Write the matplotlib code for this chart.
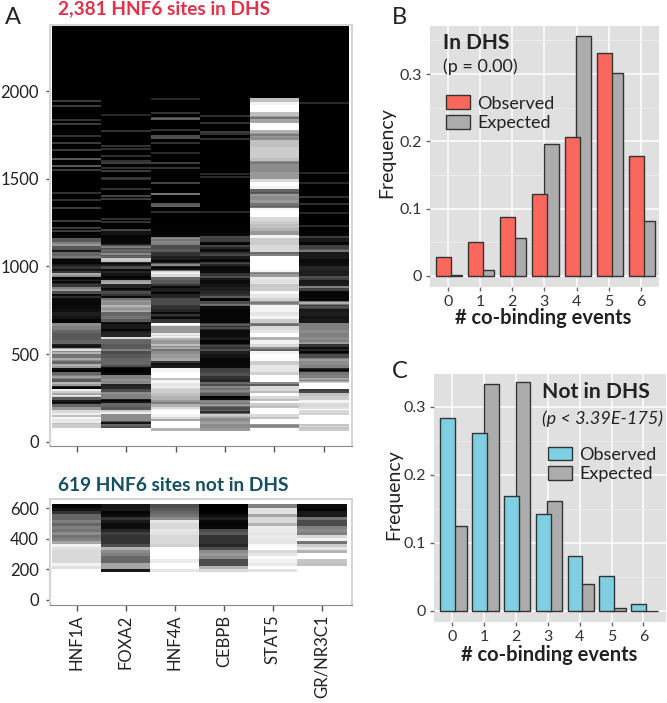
from matplotlib import pyplot as plt
from matplotlib.patches import Patch
import numpy as np

plt.rcParams['font.family'] = ['Lato', 'DejaVu Sans']

W, H = 667, 703

factors = ["HNF1A", "FOXA2", "HNF4A", "CEBPB", "STAT5", "GR/NR3C1"]

# in DHS heatmap, gray level (0 black, 1 white) in bins of 20 sites, from site 1200 down to 60
hnf1a_low = [.03, .03, .35, .5, .35, .3, .4, .25, .06, .1, .2, .22, .55, .05, .15, .22, .5, .3, .18,
             .04, .03, .04, .06, .12, .08, .02, .55, .5, .4, .35, .35, .4, .12, .6, .55, .45, .55, .4,
             .6, .06, .4, .5, .35, .6, .12, .8, .65, .35, .1, .4, .6, .85, .75, .9, .75, .8, 1]
foxa2_low = [.08, .02, .03, .15, .3, .4, .35, .4, .75, .1, .3, .15, .08, .05, .6, .15, .15, .3, .2,
             .45, .55, .6, .55, .4, .45, .35, .1, .1, .12, .15, .4, .4, .35, .35, .3, .35, .4, .4,
             .3, .03, .05, .5, .5, .55, .15, .3, .5, .5, .08, .4, .35, .8, .55, .55, .35, .4, 1]
hnf4a_low = [.02, .03, .45, .5, .3, .35, .2, .12, .12, .35, .1, .4, .85, .4, .35, .2, .12, .1, .15,
             .3, .3, .2, .15, .2, .12, .2, .9, .6, .6, .85, .7, .6, .55, .65, .55, .6, .65, .2,
             .1, .95, 1, 1, .95, .9, .85, .8, .75, .7, .6, .7, .85, 1, .95, .85, 1, 1, .7]
cebpb_low = [.02, .05, .25, .03, .15, .05, .2, .1, .02, .15, .04, .04, .2, .1, .05, .08, .12, .15, .2,
             .03, .3, .04, .02, .02, .02, .03, .25, .15, .05, .05, .1, .02, .15, .2, .12, .08, .03, .03,
             .04, .25, .3, .2, .15, .3, .45, .45, .35, .05, .5, .45, .3, .4, .8, .55, .6, .55, .6]
stat5_low = [.95, .85, .55, .95, 1, .98, .8, .9, .9, .82, 1, 1, .55, .85, .85, 1, .85, 1, .8,
             1, 1, .85, 1, 1, .6, 1]
stat5_high = [.75, .95, 1, 1, .75, .6, .65, 1, 1, .7, .6, .55, .75, .75, .8, .8, .8, .75, .55,
              .55, .55, .6, .6, .85, 1, .95, .4, .6, .55, .6, .45, .95, 1, 1, .85, .8, .75, .7,
              .6, .95, .8, .8, .85, .85, .5, 1, 1, 1, 1, .95, .6, .9, .88, .78, .8, .98, .9, .82,
              .6, .95, .95, .9, .95, .8, .5, .85, .9, 1, .7]
gr_low = [.02, .02, .1, .03, .25, .35, .1, .1, .04, .06, .15, .12, .12, .25, .1, .12, .25, .03, .03,
          .03, .45, .25, .1, .12, .08, .1, .5, .5, .55, .5, .55, .5, .2, .15, .1, .3, .5, .55,
          .5, .15, .45, .5, .5, 1, 1, .4, .75, .8, .95, .85, 1, .85, 1, 1, 1, .85, .8]

# single stripes on top of the bins: (site, gray)
hnf1a_lines = [(1943, .3), (1913, .3), (1833, .25), (1814, .3), (1743, .25), (1707, .3), (1666, .3),
               (1616, .45), (1572, .45), (1552, .3), (1422, .25), (1377, .25), (1335, .3), (1259, .3),
               (1217, .3), (1202, .3),
               (1123, .65), (1056, .55), (955, .7), (866, .65), (523, .98), (504, .75), (470, .7),
               (438, .75), (371, .65), (337, .75), (295, .98), (261, .98), (158, .98), (133, .98),
               (112, .98), (1189, 0), (1090, .05), (1037, 0), (1018, 0), (980, .05), (936, 0),
               (913, 0), (837, 0), (542, .02), (405, 0), (308, 0), (223, .02)]
foxa2_lines = [(1863, .2), (1772, .25), (1685, .25), (1671, .25), (1631, .25), (1603, .25), (1589, .3),
               (1561, .25), (1542, .3), (1507, .25), (1498, .25), (1441, .25), (1400, .35), (1385, .3),
               (1270, .25), (1253, .25), (1206, .35),
               (1109, .55), (1071, .6), (1041, .85), (904, .7), (805, .6), (774, .75), (746, .7),
               (590, 1), (1132, 0), (1018, 0), (980, 0), (942, 0), (870, 0), (827, 0), (675, 0),
               (637, 0), (418, 0), (408, 0), (398, 0), (323, 0), (238, 0), (108, 0), (166, .98),
               (82, .3), (276, .6), (352, .6), (523, .55)]
hnf4a_lines = [(1954, .2), (1878, .25), (1850, .35), (1840, .45), (1780, .25), (1742, .4), (1732, .4),
               (1704, .25), (1647, .2), (1588, .3), (1563, .25), (1479, .35), (1415, .6), (1355, .45),
               (1345, .5), (1312, .25),
               (1161, .6), (1142, .55), (1009, .6), (970, .95), (961, .95), (670, 1), (615, .95),
               (596, .98), (443, .02), (523, .4), (552, .8), (343, .98), (314, .95), (219, .45),
               (356, .7), (124, .6), (181, .98), (1033, 0), (989, .02), (884, 0), (846, 0), (732, 0),
               (703, 0)]
cebpb_lines = [(1856, .25), (1818, .25), (1770, .3), (1757, .25), (1726, .25), (1529, .2), (1510, .2),
               (1308, .2),
               (1166, .35), (1117, .3), (1066, .3), (1018, .3), (942, .35), (827, .4), (780, .5),
               (666, .4), (651, .35), (523, .35), (546, .3), (381, .35), (333, .45), (314, .55),
               (291, .55), (228, .55), (210, .65), (139, .7), (105, .65), (257, 0), (171, .1)]
stat5_lines = [(1079, .4), (964, .45), (789, .45), (666, .4), (523, .35), (324, .3), (90, .5), (286, .7),
               (200, .7), (137, .7), (238, .7), (1419, .3), (1339, .35), (1846, .4), (1751, .45),
               (1590, .45)]
gr_lines = [(1930, .2), (1533, .2), (1476, .2), (1394, .25), (1358, .25), (1305, .2), (1229, .2),
            (1166, .3), (1090, .5), (942, .35), (881, .6), (789, .75), (766, .35), (533, .02), (514, 0),
            (409, .02), (295, .2), (286, .25), (565, .65), (466, .65), (356, .7), (343, .75), (194, .85),
            (158, .8), (95, .75), (76, .75)]

# not in DHS heatmap, bins of 20 sites from site 625 down to 165
hnf1a_not = [.02, .08, .2, .4, .4, .5, .4, .5, .45, .55, .45, .5, .65, .95, .88, .85, .85, .85, .85, .95, .88, 1, 1]
foxa2_not = [.08, .1, .02, .05, .2, .1, .05, .05, .15, .25, .2, .2, .2, .3, .7, .55, .5, .4, .4, .65, .65, .1, 1]
hnf4a_not = [.3, .35, .4, .45, .55, .9, .85, .85, .9, .88, .85, .85, .85, .82, 1, 1, 1, 1, .92, 1, 1, .9, 1]
cebpb_not = [0, 0, 0, .05, .12, .03, .02, .03, .3, .35, .2, .2, .2, .15, .3, .55, .6, .55, .3, .3, .7, .85, 1]
stat5_not = [.5, .88, .88, .65, .85, .85, .7, .92, .92, .9, .92, .9, .9, .98, 1, .85, .9, 1, .95, .92, 1, .88, 1]
gr_not = [.05, .02, .1, .1, .45, .3, .3, .5, .55, .5, .85, .95, .45, .8, .9, .7, 1, 1, .78, .75, 1, 1, 1]

events = [0, 1, 2, 3, 4, 5, 6]
dhs_observed = [.028, .05, .087, .1215, .2065, .331, .178]
dhs_expected = [.001, .008, .056, .1965, .357, .302, .081]
notdhs_observed = [.284, .261, .1696, .142, .081, .052, .0103]
notdhs_expected = [.1255, .334, .336, .161, .039, .005, .0005]


def px_axes(fig, x0, y0, x1, y1):
    return fig.add_axes([x0 / W, 1 - y1 / H, (x1 - x0) / W, (y1 - y0) / H])


def px_text(fig, x, y, s, **kw):
    kw.setdefault('va', 'center')
    kw.setdefault('ha', 'left')
    return fig.text(x / W, 1 - y / H, s, **kw)


def style_heatmap(ax):
    for side in ['left', 'right', 'top']:
        ax.spines[side].set_color('#d4d4d4')
        ax.spines[side].set_linewidth(1.5)
    ax.spines['bottom'].set_color('#8a8a8a')
    ax.tick_params(axis='y', length=3, width=1, color='#555555', labelsize=12, labelcolor='#222222', pad=5)
    ax.tick_params(axis='x', length=4, width=1, color='#555555')
    ax.set_xticks(range(6))


def style_bars(ax):
    ax.set_facecolor('#e0e0e0')
    for s in ax.spines.values():
        s.set_visible(False)
    ax.set_axisbelow(True)
    ax.set_xticks(events)
    ax.set_yticks([0, .1, .2, .3], ['0', '0.1', '0.2', '0.3'])
    ax.set_yticks([.05, .15, .25, .35], minor=True)
    ax.grid(True, which='major', color='white', linewidth=1.1)
    ax.grid(True, which='minor', axis='y', color='#ededed', linewidth=.6)
    ax.tick_params(which='minor', length=0)
    ax.tick_params(which='major', length=3, width=1, color='#666666', labelsize=11.5, labelcolor='#333333', pad=3)


def draw_bars(ax, observed, expected, color, off_obs, off_exp):
    x = np.array(events)
    ax.bar(x + off_exp, expected, .465, color='#acacac', edgecolor='#333333', linewidth=1, zorder=2)
    ax.bar(x + off_obs, observed, .465, color=color, edgecolor='#333333', linewidth=1, zorder=3)
    handles = [Patch(facecolor=color, edgecolor='#333333', label='Observed'),
               Patch(facecolor='#acacac', edgecolor='#333333', label='Expected')]
    return handles


fig = plt.figure(figsize=(W / 100, H / 100), dpi=100)

# panel A, in DHS
ax = px_axes(fig, 50, 25, 352, 445.7)
row_edges = np.concatenate([[2381], np.arange(1960, 40, -20)])
matrix = np.zeros((len(row_edges) - 1, 6))
columns = [hnf1a_low, foxa2_low, hnf4a_low, cebpb_low, None, gr_low]
for i, col in enumerate(columns):
    if col is None:
        matrix[1:, i] = stat5_high + stat5_low
    else:
        matrix[1 + 38:, i] = col
ax.pcolormesh(np.arange(-.5, 6.5), row_edges, matrix, cmap='gray', vmin=0, vmax=1)
all_lines = [hnf1a_lines, foxa2_lines, hnf4a_lines, cebpb_lines, stat5_lines, gr_lines]
for i, lines in enumerate(all_lines):
    for site, gray in lines:
        ax.hlines(site, i - .5, i + .5, colors=str(gray), linewidth=1.1)
ax.set_xlim(-.54, 5.57)
ax.set_ylim(-23, 2378)
ax.set_yticks([0, 500, 1000, 1500, 2000])
ax.set_xticklabels([])
style_heatmap(ax)

# panel A, not in DHS
ax2 = px_axes(fig, 50, 499, 352, 605)
row_edges2 = np.arange(625, 145, -20)
matrix2 = np.array([hnf1a_not, foxa2_not, hnf4a_not, cebpb_not, stat5_not, gr_not]).T
ax2.pcolormesh(np.arange(-.5, 6.5), row_edges2, matrix2, cmap='gray', vmin=0, vmax=1)
ax2.set_xlim(-.54, 5.61)
ax2.set_ylim(-33, 661)
ax2.set_yticks([0, 200, 400, 600])
style_heatmap(ax2)
ax2.set_xticklabels(factors, rotation=90, fontsize=12, color='#222222', va='top', ha='center')
ax2.tick_params(axis='x', pad=3)

# panel B
ax3 = px_axes(fig, 430, 25.7, 659, 287)
style_bars(ax3)
h3 = draw_bars(ax3, dhs_observed, dhs_expected, '#fa675c', -.14, .21)
ax3.set_xlim(-.55, 6.56)
ax3.set_ylim(-.0168, .372)
ax3.legend(handles=h3, loc='upper left', bbox_to_anchor=(.068, .733), frameon=False, fontsize=13,
           handlelength=1.36, handleheight=.78, handletextpad=.4, labelspacing=.19, borderpad=0, borderaxespad=0,
           labelcolor='#222222')

# panel C
ax4 = px_axes(fig, 434, 374.3, 665.7, 622)
style_bars(ax4)
h4 = draw_bars(ax4, notdhs_observed, notdhs_expected, '#80cee2', -.147, .22)
ax4.set_xlim(-.575, 6.7)
ax4.set_ylim(-.0162, .348)
ax4.legend(handles=h4, loc='upper left', bbox_to_anchor=(.49, .707), frameon=False, fontsize=13,
           handlelength=1.36, handleheight=.78, handletextpad=.4, labelspacing=.19, borderpad=0, borderaxespad=0,
           labelcolor='#222222')

# titles and labels
px_text(fig, 58, 9, "2,381 HNF6 sites in DHS", color='#e6304a', fontsize=13.7, fontweight='bold')
px_text(fig, 58, 485.5, "619 HNF6 sites not in DHS", color='#14505f', fontsize=13.8, fontweight='bold')
px_text(fig, 5, 17, "A", fontsize=17, color='#222222')
px_text(fig, 392, 17, "B", fontsize=17, color='#222222')
px_text(fig, 392, 372, "C", fontsize=17, color='#222222')
px_text(fig, 443, 43, "In DHS", fontsize=15, fontweight='bold', color='#222222')
px_text(fig, 443, 67, "(p = 0.00)", fontsize=13, color='#222222')
px_text(fig, 541.5, 392, "Not in DHS", fontsize=15.2, fontweight='bold', color='#222222')
px_text(fig, 541.5, 419, "(p < 3.39E-175)", fontsize=13, style='italic', color='#222222')
px_text(fig, 387, 153, "Frequency", fontsize=14, rotation=90, ha='center', color='#222222')
px_text(fig, 394, 495, "Frequency", fontsize=14, rotation=90, ha='center', color='#222222')
px_text(fig, 543, 318, "# co-binding events", fontsize=14.5, fontweight='bold', ha='center', color='#222222')
px_text(fig, 549, 655, "# co-binding events", fontsize=14.5, fontweight='bold', ha='center', color='#222222')

plt.savefig('out.png', dpi=100)
